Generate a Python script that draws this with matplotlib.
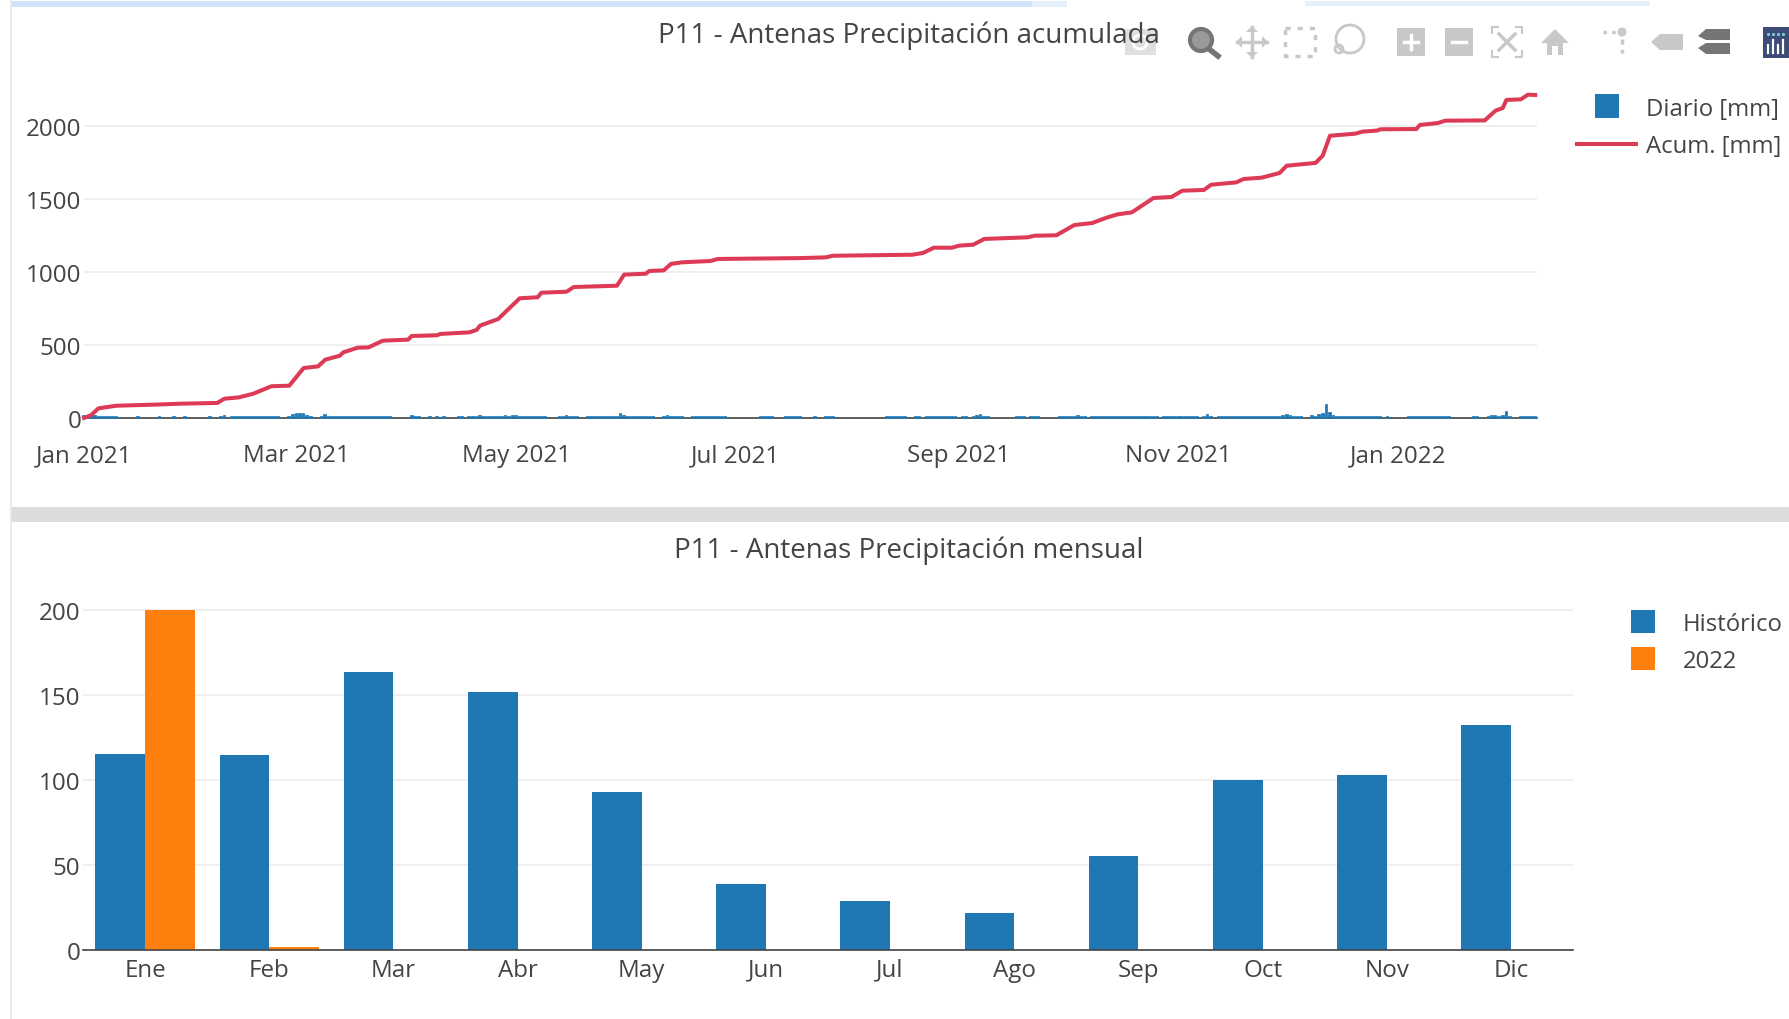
import numpy as np
import matplotlib.pyplot as plt
from matplotlib.patches import Rectangle, Circle, Polygon

plt.rcParams['font.family'] = ['Open Sans', 'DejaVu Sans']

W, H = 1790, 1020
TEXT = '#444444'
GRID = '#eeeeee'
BLUE = '#1f77b4'
ORANGE = '#ff7f0e'
RED = '#dc3a55'

# dias desde 2021-01-01 y acumulado
acum_day = [0, 2, 4, 9, 19, 27, 37, 39, 43, 47, 52, 57, 61, 65, 67, 71, 72, 76, 79, 83, 90, 91,
            98, 99, 107, 109, 110, 115, 121, 126, 127, 134, 136, 148, 150, 156, 157, 161, 163,
            166, 174, 176, 199, 206, 208, 230, 233, 236, 241, 243, 247, 250, 262, 264, 270,
            275, 280, 284, 287, 291, 297, 302, 305, 311, 313, 320, 322, 327, 332, 334, 342,
            344, 346, 353, 355, 359, 360, 370, 371, 376, 378, 389, 392, 394, 395, 399, 401, 403]
acum_mm = [0, 20, 66, 84, 91, 98, 103, 132, 141, 166, 217, 221, 342, 353, 399, 426, 449, 481, 483,
           529, 536, 561, 566, 575, 586, 602, 632, 677, 819, 826, 857, 864, 896, 905, 981, 987,
           1006, 1010, 1054, 1065, 1074, 1088, 1094, 1099, 1110, 1117, 1129, 1165, 1165, 1179,
           1186, 1225, 1236, 1247, 1250, 1320, 1334, 1371, 1393, 1407, 1505, 1512, 1555, 1560,
           1596, 1612, 1635, 1644, 1676, 1726, 1745, 1795, 1931, 1945, 1959, 1966, 1975, 1977,
           2005, 2018, 2034, 2036, 2103, 2121, 2176, 2180, 2212, 2210]

# lluvia diaria, solo los dias con barra visible (cada fila de dias con su fila de valores)
rain_day = [0, 1, 2, 3, 4, 5, 6, 7, 8, 9, 10,
            15, 21, 25, 28, 35, 38, 39,
            41, 42, 43, 44, 45, 46, 47, 48, 49, 50, 51, 52, 53, 54,
            57, 58, 59, 60, 61, 62, 63,
            66, 67, 68, 69, 70, 71, 72, 73, 74, 75, 76, 77, 78, 79, 80, 81, 82, 83, 84, 85, 86,
            91, 92, 93, 96, 98, 100, 104, 105,
            107, 108, 109, 110, 111, 112, 113, 114, 115, 116, 117, 118, 119, 120, 121, 122, 123, 124, 125, 126, 127, 128,
            132, 133, 134, 135, 136, 137,
            140, 141, 142, 143, 144, 145, 146, 147, 148, 149, 150, 151, 152, 153, 154, 155, 156, 157, 158,
            161, 162, 163, 164, 165, 166,
            169, 170, 171, 172, 173, 174, 175, 176, 177, 178,
            188, 189, 190, 191,
            195, 196, 197, 198, 199,
            203, 206, 207, 208,
            223, 224, 225, 226, 227, 228,
            231, 232,
            234, 235, 236, 237, 238, 239, 240, 241, 242,
            244, 245,
            247, 248, 249, 250, 251,
            259, 260, 261, 263, 264, 265,
            271, 272, 273, 274, 275, 276, 277, 278,
            280, 281, 282, 283, 284, 285, 286, 287, 288, 289, 290, 291, 292, 293, 294, 295, 296, 297, 298,
            300, 301, 302, 303, 304, 305, 306, 307, 308, 309,
            311, 312, 313,
            315, 316, 317, 318, 319, 320, 321, 322, 323, 324, 325, 326, 327, 328, 329, 330, 331, 332, 333, 334, 335, 336, 337, 338,
            341, 342, 343, 344, 345, 346, 347,
            348, 349, 350, 351, 352, 353, 354, 355, 356, 357, 358, 359, 360,
            362,
            368, 369, 370, 371, 372, 373, 374, 375, 376, 377, 378, 379,
            386, 387,
            390, 391, 392, 393, 394, 395, 396,
            399, 400, 401, 402, 403]
rain_mm = [12, 10, 14, 12, 10, 8, 7, 6, 5, 4, 3,
           6, 9, 7, 7, 6, 8, 12,
           6, 9, 7, 6, 6, 7, 6, 6, 7, 8, 6, 7, 5, 6,
           8, 18, 26, 30, 24, 14, 8,
           9, 18, 10, 7, 8, 10, 8, 7, 6, 7, 6, 7, 5, 6, 7, 6, 8, 7, 6, 5, 3,
           12, 8, 5, 6, 6, 6, 7, 6,
           7, 8, 8, 12, 9, 8, 8, 7, 9, 10, 11, 9, 12, 14, 10, 9, 8, 8, 7, 9, 6, 7,
           6, 10, 14, 8, 8, 5,
           7, 8, 7, 7, 8, 6, 7, 8, 9, 30, 12, 8, 7, 10, 8, 7, 7, 6, 7,
           8, 12, 9, 7, 6, 5,
           6, 7, 6, 6, 7, 6, 6, 6, 6, 8,
           7, 6, 7, 7,
           8, 6, 6, 6, 5,
           4, 5, 6, 5,
           7, 8, 7, 7, 7, 6,
           6, 5,
           7, 7, 6, 7, 8, 7, 8, 7, 8,
           6, 7,
           7, 12, 18, 9, 8,
           7, 7, 8, 6, 6, 7,
           7, 8, 9, 10, 8, 14, 7, 6,
           7, 8, 7, 7, 8, 8, 8, 9, 8, 9, 8, 9, 8, 9, 8, 8, 7, 8, 6,
           6, 7, 8, 8, 8, 6, 7, 9, 8, 6,
           7, 18, 7,
           7, 8, 7, 8, 7, 7, 8, 7, 7, 7, 6, 7, 7, 8, 7, 7, 7, 8, 12, 20, 12, 8, 7, 6,
           12, 8, 18, 28, 90, 35, 14,
           9, 8, 8, 7, 8, 7, 7, 8, 6, 6, 5, 5, 6,
           5,
           5, 7, 8, 7, 8, 6, 6, 7, 7, 6, 5, 4,
           6, 7,
           8, 14, 12, 10, 14, 40, 10,
           8, 8, 7, 7, 8]

date_tick_day = [0, 59, 120, 181, 243, 304, 365]
date_tick_labels = ['Jan 2021', 'Mar 2021', 'May 2021', 'Jul 2021', 'Sep 2021', 'Nov 2021', 'Jan 2022']
acum_yticks = [0, 500, 1000, 1500, 2000]

meses = ['Ene', 'Feb', 'Mar', 'Abr', 'May', 'Jun', 'Jul', 'Ago', 'Sep', 'Oct', 'Nov', 'Dic']
historico = [115, 114.5, 163.5, 151.5, 93, 38.5, 29, 22, 55, 100, 103, 132]
anio_2022 = [199.5, 2, 0, 0, 0, 0, 0, 0, 0, 0, 0, 0]
mes_yticks = [0, 50, 100, 150, 200]

base = np.datetime64('2021-01-01')


def dates(days):
    return base + np.array(days, dtype='timedelta64[D]')


def place(left, right, top, bottom):
    return fig.add_axes([left / W, 1 - bottom / H, (right - left) / W, (bottom - top) / H])


def style(ax):
    for s in ['top', 'left', 'right']:
        ax.spines[s].set_visible(False)
    ax.spines['bottom'].set_color(TEXT)
    ax.spines['bottom'].set_linewidth(1.2)
    ax.grid(axis='y', color=GRID, linewidth=1.3)
    ax.set_axisbelow(True)
    ax.tick_params(axis='both', length=0, labelsize=17.4, labelcolor=TEXT)
    ax.tick_params(axis='y', pad=2)
    ax.patch.set_alpha(0)


fig = plt.figure(figsize=(W / 100, H / 100), dpi=100, facecolor='white')

# ventana de fondo de la captura
bg = fig.add_axes([0, 0, 1, 1], zorder=0)
bg.set_xlim(0, W)
bg.set_ylim(H, 0)
bg.axis('off')
bg.add_patch(Rectangle((12, 2), 1020, 6, color='#cfe4fb', lw=0))
bg.add_patch(Rectangle((1032, 2), 35, 6, color='#e6f0fb', lw=0))
bg.add_patch(Rectangle((1305, 2), 345, 5, color='#e6f0fb', lw=0))
bg.add_patch(Rectangle((11, 507.5), W - 11, 15.5, color='#dcdddb', lw=0))
bg.plot([11.5, 11.5], [0, H], color='#e4e6ea', lw=1.2)

# acumulada
ax1 = place(84, 1537, 60, 419)
ax1.set_xlim(base, base + np.timedelta64(9684, 'h'))
ax1.set_ylim(0, 2456)
ax1.set_yticks(acum_yticks)
ax1.set_xticks(dates(date_tick_day))
ax1.set_xticklabels(date_tick_labels)
style(ax1)
ax1.tick_params(axis='x', pad=18)
ax1.bar(dates(rain_day), rain_mm, width=0.45, color=BLUE, edgecolor=BLUE, linewidth=1.25, zorder=3, clip_on=False)
ax1.plot(dates(acum_day), acum_mm, color=RED, lw=2.9, zorder=4, clip_on=False)

# mensual
ax2 = place(83, 1573, 560, 951)
x = np.arange(len(meses))
ax2.bar(x - 0.2, historico, width=0.4, color=BLUE)
ax2.bar(x + 0.2, anio_2022, width=0.4, color=ORANGE)
ax2.set_xlim(-0.5, 11.5)
ax2.set_ylim(0, 229.7)
ax2.set_yticks(mes_yticks)
ax2.set_xticks(x)
ax2.set_xticklabels(meses)
style(ax2)
ax2.tick_params(axis='x', pad=5.5)

# titulos, leyendas y barra de herramientas en pixeles
ov = fig.add_axes([0, 0, 1, 1], zorder=5)
ov.set_xlim(0, W)
ov.set_ylim(H, 0)
ov.axis('off')
ov.text(909, 35.5, 'P11 - Antenas Precipitación acumulada', ha='center', va='center', fontsize=20, color=TEXT)
ov.text(909, 551, 'P11 - Antenas Precipitación mensual', ha='center', va='center', fontsize=20, color=TEXT)

ov.add_patch(Rectangle((1595, 95), 24, 24, color=BLUE, lw=0))
ov.plot([1577, 1636], [145, 145], color=RED, lw=2.9)
ov.text(1646, 110, 'Diario [mm]', va='center', fontsize=17.2, color=TEXT)
ov.text(1646, 147, 'Acum. [mm]', va='center', fontsize=17.2, color=TEXT)
ov.add_patch(Rectangle((1631, 611), 24, 23, color=BLUE, lw=0))
ov.add_patch(Rectangle((1631, 648), 24, 23, color=ORANGE, lw=0))
ov.text(1683, 625, 'Histórico', va='center', fontsize=17.2, color=TEXT)
ov.text(1683, 662, '2022', va='center', fontsize=17.2, color=TEXT)

LIGHT = '#c8c8c8'
DARK = '#757575'
# la barra de herramientas tapa el final del titulo
ov.add_patch(Rectangle((1118, 14), 50, 40, color='white', lw=0, alpha=0.55))
# camara
ov.add_patch(Rectangle((1125, 30), 31, 26, color='#d8d8d8', lw=0, alpha=0.8))
ov.add_patch(Circle((1140, 43), 7, fc='none', ec='white', lw=2))
# lupa
ov.add_patch(Circle((1201, 41), 11, fc='#999999', ec=DARK, lw=3))
ov.plot([1209, 1218], [50, 57], color=DARK, lw=4)
# mover
ov.plot([1252, 1252], [28, 58], color=LIGHT, lw=2.5)
ov.plot([1237, 1267], [43, 43], color=LIGHT, lw=2.5)
for a, b, c in [((1246, 33), (1258, 33), (1252, 27)), ((1246, 53), (1258, 53), (1252, 59)),
                ((1242, 37), (1242, 49), (1236, 43)), ((1262, 37), (1262, 49), (1268, 43))]:
    ov.add_patch(Polygon([a, b, c], color=LIGHT, lw=0))
# caja
ov.add_patch(Rectangle((1285, 29), 30, 28, fc='none', ec=LIGHT, lw=2.5, ls=(0, (1.5, 2))))
# lazo
ov.add_patch(Circle((1350, 40), 14, fc='none', ec=LIGHT, lw=2))
ov.add_patch(Circle((1339, 50), 4, fc='none', ec=LIGHT, lw=2))
# mas y menos
for cx, sym in [(1411, '+'), (1459, '-')]:
    ov.add_patch(Rectangle((cx - 14, 29), 28, 28, color=LIGHT, lw=0))
    ov.plot([cx - 7, cx + 7], [43, 43], color='white', lw=2.5)
    if sym == '+':
        ov.plot([cx, cx], [36, 50], color='white', lw=2.5)
# autoescala
for cx, cy, sx, sy in [(1492, 28, 1, 1), (1522, 28, -1, 1), (1492, 58, 1, -1), (1522, 58, -1, -1)]:
    ov.plot([cx + 6 * sx, cx, cx], [cy, cy, cy + 6 * sy], color=LIGHT, lw=1.5)
ov.plot([1499, 1515], [35, 51], color=LIGHT, lw=2.5)
ov.plot([1499, 1515], [51, 35], color=LIGHT, lw=2.5)
# casa
ov.add_patch(Polygon([(1541, 44), (1555, 30), (1569, 44), (1563, 44), (1563, 56), (1558, 56), (1558, 47),
                      (1552, 47), (1552, 56), (1547, 56), (1547, 44)], color=LIGHT, lw=0))
# spike
ov.add_patch(Circle((1622, 33), 4.5, color=LIGHT, lw=0))
ov.plot([1603, 1617], [33, 33], color=LIGHT, lw=2.5, ls=(0, (1, 1.5)))
ov.plot([1622, 1622], [40, 54], color=LIGHT, lw=2.5, ls=(0, (1.5, 1.5)))
# etiquetas
ov.add_patch(Polygon([(1651, 43), (1660, 35), (1683, 35), (1683, 51), (1660, 51)], color=LIGHT, lw=0))
ov.add_patch(Polygon([(1698, 37), (1706, 30), (1730, 30), (1730, 41), (1706, 41)], color=DARK, lw=0))
ov.add_patch(Polygon([(1698, 49), (1706, 44), (1730, 44), (1730, 55), (1706, 55)], color=DARK, lw=0))
# logo
ov.add_patch(Rectangle((1763, 28), 27, 31, color='#3c4b78', lw=0))
for lx, top in [(1768, 46), (1773, 41), (1778, 46), (1783, 41)]:
    ov.plot([lx, lx], [top, 54], color='white', lw=1.6)
for lx in [1768, 1773, 1778, 1783]:
    ov.plot([lx], [35], marker='.', ms=2.5, color='#7fd0c8')

fig.savefig('out.png', dpi=100)
